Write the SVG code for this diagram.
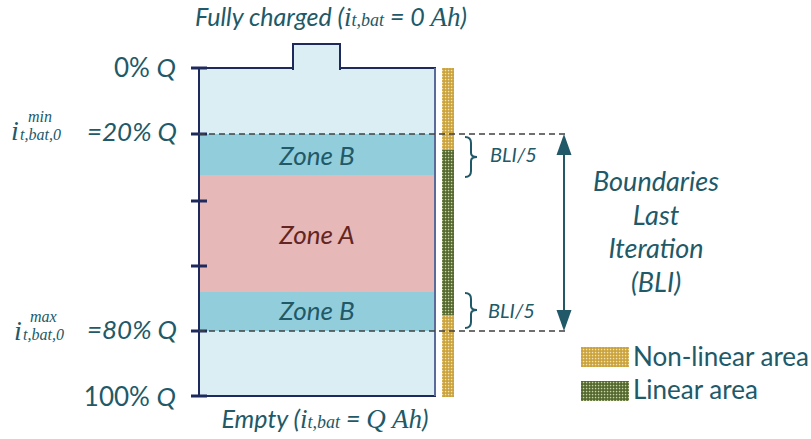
<svg xmlns="http://www.w3.org/2000/svg" width="811" height="439" viewBox="0 0 811 439">
<defs>
<pattern id="gold" width="3" height="3" patternUnits="userSpaceOnUse">
<rect width="3" height="3" fill="#C9A036"/>
<rect x="0.8" y="0.8" width="1.5" height="1.5" fill="#F3E3B6"/>
</pattern>
<pattern id="green" width="3" height="3" patternUnits="userSpaceOnUse">
<rect width="3" height="3" fill="#4F6228"/>
<rect x="0.8" y="0.8" width="1.5" height="1.5" fill="#C9D6A8"/>
</pattern>
</defs>
<style>
.t{font-family:Lato,"Open Sans",sans-serif;fill:#215968}
.it{font-style:italic}
.m{font-family:"Liberation Serif",serif;font-style:italic;fill:#215968}
.tick{stroke:#1F2A5C;stroke-width:3}
.dash{stroke:#404040;stroke-width:1.5;stroke-dasharray:6 4;fill:none}
.br{fill:none;stroke:#215968;stroke-width:2}
</style>

<g id="battery">
<rect x="199" y="68" width="236" height="328" fill="#DAEEF3"/>
<rect x="293" y="44" width="47" height="25" fill="#DAEEF3" stroke="#1F2A5C" stroke-width="2"/>
<rect x="294" y="62" width="45" height="8" fill="#DAEEF3"/>
<path d="M199,396 L199,68 L293,68 M340,68 L435,68 L435,396 L199,396" fill="none" stroke="#1F2A5C" stroke-width="2"/>
<path d="M435,68 L435,396" fill="none" stroke="#5A6A99" stroke-width="2"/>
</g>

<g id="zoneB-top">
<rect x="200" y="134" width="234" height="41" fill="#92CDDC"/>
<text class="t it" x="317" y="165" font-size="26" text-anchor="middle">Zone B</text>
</g>
<g id="zoneA">
<rect x="200" y="175" width="234" height="117" fill="#E6B8B7"/>
<text class="t it" x="317" y="244" font-size="26" text-anchor="middle" style="fill:#632523">Zone A</text>
</g>
<g id="zoneB-bottom">
<rect x="200" y="292" width="234" height="39" fill="#92CDDC"/>
<text class="t it" x="317" y="320" font-size="26" text-anchor="middle">Zone B</text>
</g>

<g id="ticks">
<line class="tick" x1="191" y1="68" x2="207" y2="68"/>
<line class="tick" x1="191" y1="134" x2="207" y2="134"/>
<line class="tick" x1="191" y1="201" x2="207" y2="201"/>
<line class="tick" x1="191" y1="266" x2="207" y2="266"/>
<line class="tick" x1="191" y1="331" x2="207" y2="331"/>
<line class="tick" x1="191" y1="396" x2="207" y2="396"/>
</g>

<g id="bar">
<rect x="442" y="68" width="12" height="329" fill="url(#gold)"/>
<rect x="442" y="150" width="12" height="165" fill="url(#green)"/>
</g>

<g id="connectors">
<line class="dash" x1="199" y1="134" x2="565" y2="134"/>
<line class="dash" x1="199" y1="331" x2="565" y2="331"/>
<line x1="564" y1="155" x2="564" y2="310" stroke="#215968" stroke-width="2"/>
<path d="M564,134 L571.5,155 L556.5,155 Z" fill="#215968"/>
<path d="M564,331 L571.5,310 L556.5,310 Z" fill="#215968"/>
<path class="br" d="M465,137 Q471,137 471,143 L471,153 Q471,157 477,157 Q471,157 471,161 L471,171 Q471,177 465,177"/>
<path class="br" d="M465,293 Q471,293 471,299 L471,306 Q471,310 477,310 Q471,310 471,314 L471,322 Q471,328 465,328"/>
</g>

<g id="labels">
<text class="t it" x="331" y="26" font-size="25" text-anchor="middle">Fully charged (<tspan class="m" font-size="27">i</tspan><tspan class="m" font-size="18">t,bat</tspan> = 0 <tspan class="m" font-size="27">Ah</tspan>)</text>
<text class="t it" x="325" y="428" font-size="25" text-anchor="middle">Empty (<tspan class="m" font-size="27">i</tspan><tspan class="m" font-size="18">t,bat</tspan> = <tspan class="m" font-size="27">Q Ah</tspan>)</text>
<text class="t" x="176" y="77" font-size="26" text-anchor="end">0% <tspan class="it">Q</tspan></text>
<text class="t it" x="177" y="141" font-size="26" text-anchor="end">=20% Q</text>
<text class="t it" x="177" y="339" font-size="26" text-anchor="end">=80% Q</text>
<text class="t" x="176" y="406" font-size="26" text-anchor="end">100% <tspan class="it">Q</tspan></text>
<text class="m"><tspan x="11" y="140" font-size="28">i</tspan><tspan x="20" y="140" font-size="16">t,bat,0</tspan><tspan x="28" y="122" font-size="16">min</tspan></text>
<text class="m"><tspan x="14" y="340" font-size="28">i</tspan><tspan x="23" y="340" font-size="16">t,bat,0</tspan><tspan x="30" y="322" font-size="16">max</tspan></text>
<text class="t it" x="490" y="162" font-size="20">BLI/5</text>
<text class="t it" x="488" y="318" font-size="20">BLI/5</text>
<text class="t it" font-size="27" text-anchor="middle"><tspan x="656" y="191">Boundaries</tspan><tspan x="656" y="225">Last</tspan><tspan x="656" y="258">Iteration</tspan><tspan x="656" y="292">(BLI)</tspan></text>
</g>

<g id="legend">
<rect x="581" y="347" width="48" height="20" fill="url(#gold)"/>
<rect x="581" y="381" width="48" height="20" fill="url(#green)"/>
<text class="t" x="633" y="366" font-size="26">Non-linear area</text>
<text class="t" x="633" y="399" font-size="26">Linear area</text>
</g>
</svg>
